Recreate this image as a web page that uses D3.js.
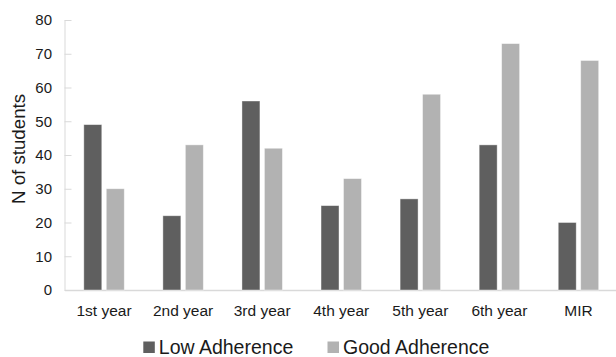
<!DOCTYPE html>
<html><head><meta charset="utf-8">
<script src="https://cdn.jsdelivr.net/npm/d3@7"></script>
<style>body{margin:0;background:#fff}svg{display:block}text{font-family:"Liberation Sans",Arial,sans-serif;fill:#1a1a1a}</style>
</head><body><svg id="c" width="616" height="357"></svg>
<script>
const categories = ["1st year","2nd year","3rd year","4th year","5th year","6th year","MIR"];
const lowAdherence = [49,22,56,25,27,43,20];
const goodAdherence = [30,43,42,33,58,73,68];
const seriesNames = ["Low Adherence","Good Adherence"];
const yTicks = [0,10,20,30,40,50,60,70,80];

const svg = d3.select("#c");
const W = 616, H = 357;
const x = d3.scaleBand().domain(categories).range([64.5, 618]).paddingInner(0).paddingOuter(0);
const x1 = d3.scaleBand().domain(seriesNames).range([0, x.bandwidth()]).paddingInner(0.2).paddingOuter(0.86);
const y = d3.scaleLinear().domain([0,80]).range([290, 20]);
const colors = {"Low Adherence":"#5f5f5f","Good Adherence":"#b2b2b2"};

// axes
const yAxis = svg.append("g").attr("transform",`translate(64.5,0)`)
  .call(d3.axisRight(y).tickValues(yTicks).tickSize(7).tickSizeOuter(0).tickFormat(""));
yAxis.select(".domain").attr("stroke","#d9d9d9");
yAxis.selectAll(".tick line").attr("stroke","#d9d9d9");
svg.append("g").selectAll("text").data(yTicks).join("text")
  .attr("x", 52).attr("y", d=>y(d)).attr("dy","0.36em").attr("text-anchor","end")
  .attr("font-size",15).text(d=>d);

const xAxis = svg.append("g").attr("transform",`translate(0,${y(0)})`)
  .call(d3.axisBottom(x).tickSize(0).tickSizeOuter(0).tickFormat(""));
xAxis.select(".domain").attr("stroke","#d9d9d9").attr("stroke-width",1.5);
svg.append("g").selectAll("text").data(categories).join("text")
  .attr("x", d=>x(d)+x.bandwidth()/2).attr("y", 316).attr("text-anchor","middle")
  .attr("font-size",15.5).text(d=>d);

// bars
const data = categories.map((c,i)=>({c, vals:[{s:seriesNames[0],v:lowAdherence[i]},{s:seriesNames[1],v:goodAdherence[i]}]}));
svg.append("g").selectAll("g").data(data).join("g")
  .attr("transform",d=>`translate(${x(d.c)},0)`)
  .selectAll("rect").data(d=>d.vals).join("rect")
  .attr("x",d=>x1(d.s)).attr("width",x1.bandwidth())
  .attr("y",d=>y(d.v)).attr("height",d=>y(0)-y(d.v))
  .attr("fill",d=>colors[d.s]).attr("stroke","#ffffff").attr("stroke-opacity",0.5).attr("stroke-width",0.8);

// y title
svg.append("text").attr("transform","translate(25,149) rotate(-90)")
  .attr("text-anchor","middle").attr("font-size",18.7).text("N of students");

// legend
const leg = [{s:seriesNames[0], x:143.3},{s:seriesNames[1], x:327.5}];
const lg = svg.append("g");
lg.selectAll("rect").data(leg).join("rect")
  .attr("x",d=>d.x).attr("y",341.5).attr("width",11.5).attr("height",11.5).attr("fill",d=>colors[d.s]);
lg.selectAll("text").data(leg).join("text")
  .attr("x",d=>d.x+15.5).attr("y",353.5).attr("font-size",19.5).text(d=>d.s);
</script></body></html>
